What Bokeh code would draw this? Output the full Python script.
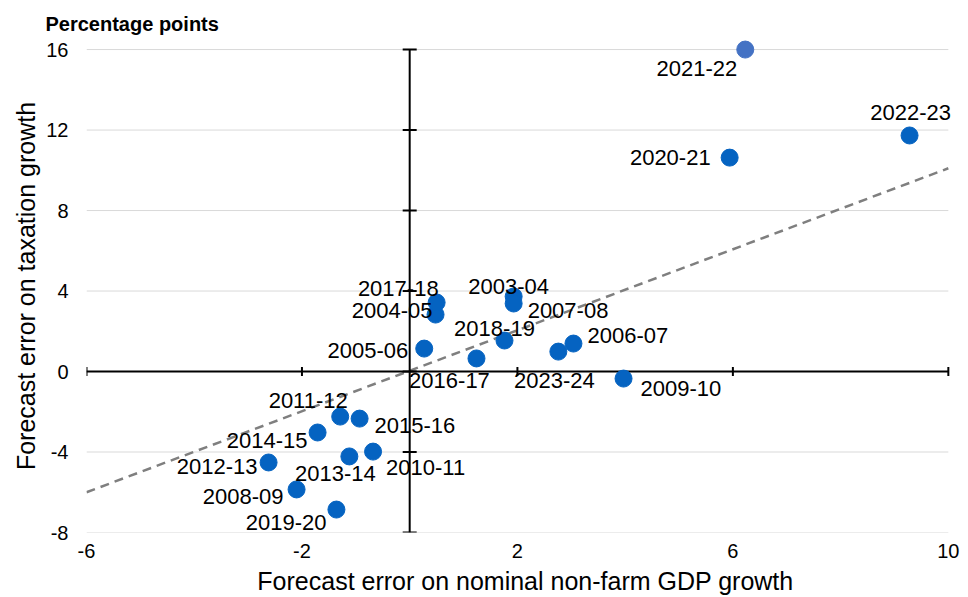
import math
from bokeh.plotting import figure
from bokeh.models import ColumnDataSource, FixedTicker, Title
from bokeh.core.properties import value
from bokeh.embed import file_html
from bokeh.resources import INLINE

# ---------------- data ----------------
years = ["2003-04", "2004-05", "2005-06", "2006-07", "2007-08", "2008-09", "2009-10",
         "2010-11", "2011-12", "2012-13", "2013-14", "2014-15", "2015-16", "2016-17",
         "2017-18", "2018-19", "2019-20", "2020-21", "2021-22", "2022-23", "2023-24"]
gdp_error = [1.93, 0.48, 0.27, 3.04, 1.93, -2.10, 3.97,
             -0.68, -1.29, -2.62, -1.12, -1.71, -0.93, 1.24,
             0.50, 1.76, -1.36, 5.94, 6.23, 9.28, 2.76]
tax_error = [3.73, 2.83, 1.14, 1.39, 3.38, -5.86, -0.35,
             -3.98, -2.24, -4.52, -4.22, -3.03, -2.34, 0.65,
             3.43, 1.54, -6.86, 10.63, 16.0, 11.73, 0.99]
highlight = "2021-22"

trend_x = [-6, 10]
trend_y = [-6.0, 10.1]

x_ticks = [-6, -2, 2, 6, 10]
x_tick_labels = ["-6", "-2", "2", "6", "10"]
y_ticks = [-8, -4, 0, 4, 8, 12, 16]
y_tick_labels = ["-8", "-4", "0", "4", "8", "12", "16"]

x_title = "Forecast error on nominal non-farm GDP growth"
y_title = "Forecast error on taxation growth"
unit_note = "Percentage points"

# ---------------- label placement (screen px, style) ----------------
label_place = {
    "2021-22": ("right", -8, 19), "2022-23": ("center", 1, -23), "2020-21": ("right", -19, 0),
    "2003-04": ("center", -5, -10), "2007-08": ("left", 14, 7), "2017-18": ("right", 2, -14),
    "2004-05": ("right", -3, -4), "2005-06": ("right", -16, 2), "2016-17": ("center", -27, 22),
    "2018-19": ("center", -10, -12), "2023-24": ("center", -4, 29), "2006-07": ("left", 14, -8),
    "2009-10": ("left", 17, 10), "2011-12": ("center", -32, -16), "2015-16": ("left", 15, 7),
    "2014-15": ("right", -10, 8), "2012-13": ("right", -11, 4), "2013-14": ("center", -14, 17),
    "2010-11": ("left", 13, 16), "2008-09": ("right", -13, 7), "2019-20": ("right", -10, 13),
}

FONT = "Liberation Sans"
BLUE = "#0563C1"
BLUE_HL = "#4472C4"

x_lo, x_hi = min(x_ticks), max(x_ticks)
y_lo, y_hi = min(y_ticks), max(y_ticks)

src = ColumnDataSource(dict(
    x=gdp_error, y=tax_error, year=years,
    color=[BLUE_HL if yr == highlight else BLUE for yr in years],
    align=[label_place[yr][0] for yr in years],
    dx=[label_place[yr][1] for yr in years],
    dy=[label_place[yr][2] for yr in years],
))

# view slightly larger than the axes so that edge points/labels are not clipped
p = figure(width=968, height=597, x_range=(x_lo, x_hi + 0.3), y_range=(y_lo, y_hi + 0.5),
           output_backend="svg", toolbar_location=None,
           min_border_left=86, min_border_right=4, min_border_top=39, min_border_bottom=65)
p.outline_line_color = None
p.background_fill_color = "white"
p.border_fill_color = "white"

p.title = Title(text=unit_note, align="left", offset=-41,
                text_font=FONT, text_font_size="20px", text_font_style="bold",
                text_color="black", standoff=10)

p.xgrid.visible = False
p.ygrid.visible = False

# outer axes: tick labels and titles only
for ax in (p.xaxis[0], p.yaxis[0]):
    ax.axis_line_color = None
    ax.major_tick_line_color = None
    ax.minor_tick_line_color = None
    ax.major_tick_in = 0
    ax.major_tick_out = 0
    ax.major_label_text_font = FONT
    ax.major_label_text_font_size = "20px"
    ax.major_label_text_color = "black"
    ax.axis_label_text_font = FONT
    ax.axis_label_text_font_size = "25px"
    ax.axis_label_text_font_style = "normal"
    ax.axis_label_text_color = "black"

p.xaxis.ticker = FixedTicker(ticks=x_ticks)
p.yaxis.ticker = FixedTicker(ticks=y_ticks)
p.xaxis.major_label_overrides = dict(zip(x_ticks, x_tick_labels))
p.yaxis.major_label_overrides = dict(zip(y_ticks, y_tick_labels))
p.xaxis.axis_label = x_title
p.yaxis.axis_label = y_title
p.xaxis.major_label_standoff = 11
p.xaxis.axis_label_standoff = 6
p.yaxis.major_label_standoff = 18
p.yaxis.axis_label_standoff = 3

# horizontal gridlines across the axis extent
p.segment(x0=[x_lo] * len(y_ticks), y0=y_ticks, x1=[x_hi] * len(y_ticks), y1=y_ticks,
          line_color="#d9d9d9", line_width=1)

# trend line
p.line(trend_x, trend_y, line_color="#7f7f7f", line_width=2.5, line_dash="9 6")

# crossing axes at zero
p.segment(x0=[0], y0=[y_lo], x1=[0], y1=[y_hi], line_color="black", line_width=2)
p.segment(x0=[x_lo], y0=[0], x1=[x_hi], y1=[0], line_color="black", line_width=2)
p.scatter(x=[0] * len(y_ticks), y=y_ticks, marker="dash", size=14,
          line_color="black", line_width=2)
p.scatter(x=x_ticks, y=[0] * len(x_ticks), marker="dash", angle=math.pi / 2, size=9,
          line_color="black", line_width=2)

# points
p.scatter("x", "y", source=src, size=17, fill_color="color", line_color="color")

# point labels
p.text("x", "y", text="year", source=src, x_offset="dx", y_offset="dy",
       text_align="align", text_baseline="middle",
       text_font=value(FONT), text_font_size="22px", text_color="black")

open("out.html", "w").write(file_html(p, INLINE))
